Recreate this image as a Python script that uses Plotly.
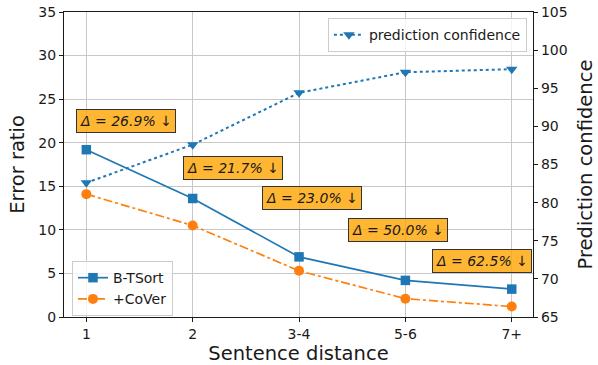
import plotly.graph_objects as go

categories = ["1", "2", "3-4", "5-6", "7+"]
btsort = [19.2, 13.6, 6.9, 4.2, 3.2]
cover = [14.1, 10.5, 5.3, 2.1, 1.2]
confidence = [82.6, 87.6, 94.4, 97.1, 97.5]
delta_labels = ["26.9%", "21.7%", "23.0%", "50.0%", "62.5%"]

# annotation placement (x in category index units, y in error-ratio units)
ann_x = [0.37, 1.375, 2.12, 2.93, 3.72]
ann_y = [22.45, 17.1, 13.64, 9.96, 6.39]

BLUE = "#1f77b4"
ORANGE = "#ff7f0e"
FONT = "DejaVu Sans"
INK = "#1a1a1a"

fig = go.Figure()
fig.add_trace(go.Scatter(
    x=categories, y=btsort, name="B-TSort", mode="lines+markers",
    line=dict(color=BLUE, width=1.7),
    marker=dict(symbol="square", size=9.5, color=BLUE),
    legend="legend",
))
fig.add_trace(go.Scatter(
    x=categories, y=cover, name="+CoVer", mode="lines+markers",
    line=dict(color=ORANGE, width=1.7, dash="dashdot"),
    marker=dict(symbol="circle", size=10, color=ORANGE),
    legend="legend",
))
fig.add_trace(go.Scatter(
    x=categories, y=confidence, name="prediction confidence", mode="lines+markers",
    line=dict(color=BLUE, width=2, dash="dot"),
    marker=dict(symbol="triangle-down", size=10, color=BLUE),
    yaxis="y2", legend="legend2",
))

for xv, yv, lab in zip(ann_x, ann_y, delta_labels):
    fig.add_annotation(
        x=xv, y=yv, xref="x", yref="y", showarrow=False,
        text="<i>Δ = " + lab + " ↓</i>",
        font=dict(family=FONT, size=14, color=INK),
        bgcolor="rgba(255,165,0,0.8)", bordercolor="#333333",
        borderwidth=1, borderpad=3,
    )

axis_common = dict(
    showline=True, linecolor=INK, linewidth=1.2,
    ticks="outside", ticklen=4, tickcolor=INK,
    tickfont=dict(family=FONT, size=14, color=INK),
    zeroline=False, automargin=False,
)
TITLE_FONT = dict(family=FONT, size=19.5, color=INK)

fig.update_layout(
    width=598, height=365,
    margin=dict(l=64, r=65, t=12, b=48),
    paper_bgcolor="white", plot_bgcolor="white",
    font=dict(family=FONT, color=INK),
    xaxis=dict(
        **axis_common, type="category", range=[-0.21, 4.2], mirror=True,
        showgrid=True, gridcolor="#c8c8c8", gridwidth=1,
        title=dict(text="Sentence distance", font=TITLE_FONT, standoff=5),
    ),
    yaxis=dict(
        **axis_common, range=[0, 35], dtick=5,
        showgrid=True, gridcolor="#c8c8c8", gridwidth=1,
        title=dict(text="Error ratio", font=TITLE_FONT, standoff=8),
    ),
    yaxis2=dict(
        **axis_common, range=[65, 105], dtick=5, overlaying="y", side="right",
        showgrid=False,
        title=dict(text="Prediction confidence", font=TITLE_FONT, standoff=11),
    ),
    legend=dict(
        x=0.017, y=0.003, xanchor="left", yanchor="bottom",
        bgcolor="rgba(255,255,255,0.8)", bordercolor="#cccccc", borderwidth=1,
        font=dict(family=FONT, size=14, color=INK), tracegroupgap=0, itemwidth=30,
    ),
    legend2=dict(
        x=0.987, y=0.98, xanchor="right", yanchor="top",
        bgcolor="rgba(255,255,255,0.8)", bordercolor="#cccccc", borderwidth=1,
        font=dict(family=FONT, size=14, color=INK), itemwidth=30,
    ),
)

fig.write_html("out.html", config={"displayModeBar": False},
               post_script="document.body.style.margin='0';")
